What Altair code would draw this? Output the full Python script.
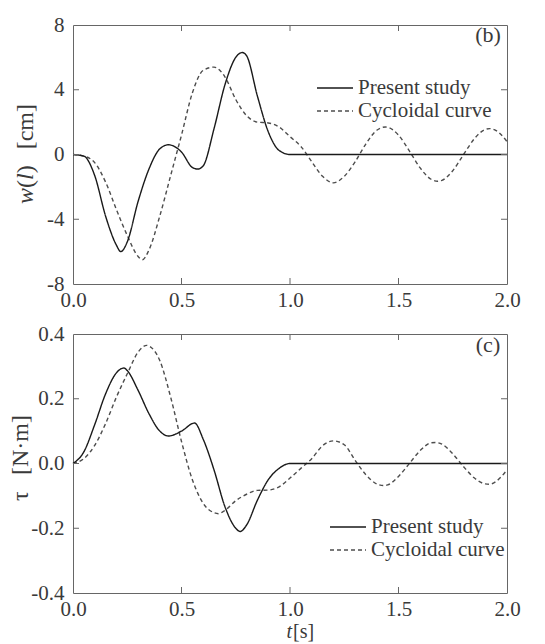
import altair as alt
import pandas as pd

SERIES = ["Present study", "Cycloidal curve"]

# ---- panel (b): tip deflection w(l) [cm]
w_present_t = [0, 0.05, 0.1, 0.15, 0.2, 0.22, 0.25, 0.3, 0.35, 0.4, 0.44, 0.5, 0.55, 0.575,
               0.6, 0.65, 0.7, 0.75, 0.78, 0.8, 0.85, 0.9, 0.95, 1.0, 1.5, 2.0]
w_present_v = [0, -0.1, -1.3, -3.8, -5.6, -6.0, -5.4, -2.9, -0.9, 0.35, 0.6, 0.15, -0.8, -0.9,
               -0.7, 1.6, 4.3, 6.0, 6.3, 6.1, 3.6, 1.4, 0.25, 0, 0, 0]

w_cyc_t = [0, 0.05, 0.1, 0.15, 0.2, 0.25, 0.3, 0.32, 0.35, 0.4, 0.45, 0.5, 0.55, 0.6, 0.65,
           0.7, 0.75, 0.8, 0.85, 0.9, 0.95, 1.0, 1.05, 1.1, 1.15, 1.2, 1.25, 1.3, 1.35, 1.4,
           1.44, 1.5, 1.55, 1.6, 1.65, 1.68, 1.7, 1.75, 1.8, 1.85, 1.9, 1.92, 1.95, 2.0]
w_cyc_v = [0, -0.1, -0.5, -1.7, -3.4, -5.0, -6.3, -6.5, -5.9, -3.8, -1.3, 1.2, 3.8, 5.2, 5.4,
           4.8, 3.4, 2.4, 2.0, 1.95, 1.7, 1.1, 0.5, -0.44, -1.35, -1.75, -1.35, -0.45, 0.66, 1.5,
           1.7, 1.2, 0.22, -0.83, -1.53, -1.65, -1.6, -1.0, 0.0, 0.98, 1.55, 1.6, 1.48, 0.8]

# ---- panel (c): torque tau [N·m]
tau_present_t = [0, 0.05, 0.1, 0.15, 0.2, 0.235, 0.25, 0.3, 0.35, 0.4, 0.44, 0.5, 0.56, 0.6,
                 0.65, 0.7, 0.75, 0.77, 0.8, 0.85, 0.9, 0.95, 1.0, 1.5, 2.0]
tau_present_v = [0, 0.036, 0.12, 0.215, 0.28, 0.295, 0.287, 0.226, 0.154, 0.10, 0.085, 0.10,
                 0.125, 0.075, -0.02, -0.133, -0.2, -0.21, -0.19, -0.113, -0.05, -0.015, 0, 0, 0]

tau_cyc_t = [0, 0.05, 0.1, 0.15, 0.2, 0.25, 0.3, 0.34, 0.35, 0.4, 0.45, 0.5, 0.55, 0.6, 0.65,
             0.67, 0.7, 0.75, 0.8, 0.85, 0.9, 0.95, 1.0, 1.05, 1.1, 1.15, 1.2, 1.25, 1.3, 1.35,
             1.4, 1.43, 1.45, 1.5, 1.55, 1.6, 1.65, 1.67, 1.7, 1.75, 1.8, 1.85, 1.9, 1.92, 1.95, 2.0]
tau_cyc_v = [0, 0.015, 0.056, 0.123, 0.205, 0.277, 0.344, 0.365, 0.363, 0.318, 0.205, 0.068,
             -0.05, -0.123, -0.152, -0.155, -0.145, -0.115, -0.095, -0.083, -0.082, -0.072,
             -0.045, -0.015, 0.015, 0.055, 0.07, 0.058, 0.01, -0.035, -0.063, -0.068, -0.066,
             -0.04, 0.0, 0.04, 0.064, 0.065, 0.06, 0.03, -0.01, -0.045, -0.063, -0.064, -0.055, -0.02]

X_TICKS = [0.0, 0.5, 1.0, 1.5, 2.0]
X_INNER = [0.5, 1.0, 1.5]
W_TICKS = [-8, -4, 0, 4, 8]
W_INNER = [-4, 0, 4]
TAU_TICKS = [-0.4, -0.2, 0.0, 0.2, 0.4]
TAU_INNER = [-0.2, 0.0, 0.2]

# axis-title pieces: (text, italic?)
W_TITLE = [("w", True), ("(", False), ("l", True), (")", False), ("[cm]", False)]
TAU_TITLE = [("τ", False), ("[N·m]", False)]
T_TITLE = [("t", True), ("[s]", False)]

FONT = "Liberation Serif"
TXT = "#3a3a3a"
FRAME = "#666666"
W, H = 434, 259
TICK = 6
LABEL_FS = 21
TITLE_FS = 24


def make_df(pt, pv, ct, cv):
    a = pd.DataFrame({"t": pt, "v": pv, "series": SERIES[0]})
    b = pd.DataFrame({"t": ct, "v": cv, "series": SERIES[1]})
    return pd.concat([b, a], ignore_index=True)


def text_piece(txt, italic, x, y, size, angle=0, align="left"):
    kw = dict(font=FONT, fontSize=size, color=TXT, align=align, baseline="middle")
    if italic:
        kw["fontStyle"] = "italic"
    if angle:
        kw["angle"] = angle
    return alt.Chart(pd.DataFrame({"s": [txt]})).mark_text(**kw).encode(
        text="s:N", x=alt.value(x), y=alt.value(y))


def vertical_title(pieces, x, starts):
    return [text_piece(p, it, x, y0, TITLE_FS, angle=270) for (p, it), y0 in zip(pieces, starts)]


def panel(df, ydom, yvals, yinner, yfmt, title_layers, tag, tag_y, lx, ly):
    xscale = alt.Scale(domain=[0, 2], nice=False, zero=False)
    yscale = alt.Scale(domain=ydom, nice=False, zero=False)
    x_axis = alt.Axis(values=X_TICKS, format=".1f", title=None, labelPadding=5)
    y_axis = alt.Axis(values=yvals, title=None, labelPadding=9,
                      labelExpr="(datum.value < 0 ? '-' : '') + format(abs(datum.value), '%s')" % yfmt)
    X = alt.X("t:Q", scale=xscale, axis=x_axis, title=None)
    Y = alt.Y("v:Q", scale=yscale, axis=y_axis, title=None)

    lines = alt.Chart(df).mark_line(interpolate="monotone", strokeWidth=1.4).encode(
        x=X, y=Y,
        color=alt.Color("series:N", scale=alt.Scale(domain=SERIES, range=["#1a1a1a", "#4d4d4d"]),
                        legend=None),
        strokeDash=alt.StrokeDash("series:N", scale=alt.Scale(domain=SERIES, range=[[1, 0], [4, 3]]),
                                  legend=None),
    )

    xt = pd.DataFrame({"t": X_INNER})
    yt = pd.DataFrame({"v": yinner})
    tick_style = dict(color=FRAME, strokeWidth=1)
    xt_bottom = alt.Chart(xt).mark_rule(**tick_style).encode(
        x=X, y=alt.value(H), y2=alt.value(H - TICK))
    xt_top = alt.Chart(xt).mark_rule(**tick_style).encode(
        x=X, y=alt.value(0), y2=alt.value(TICK))
    yt_left = alt.Chart(yt).mark_rule(**tick_style).encode(
        y=Y, x=alt.value(0), x2=alt.value(TICK))
    yt_right = alt.Chart(yt).mark_rule(**tick_style).encode(
        y=Y, x=alt.value(W), x2=alt.value(W - TICK))

    tag_layer = text_piece(tag, False, W - 19, tag_y, 22, align="center")

    legend_layers = []
    dashes = [[1, 0], [4, 3]]
    cols = ["#1a1a1a", "#4d4d4d"]
    for i, name in enumerate(SERIES):
        ldf = pd.DataFrame({"s": [name]})
        yy = ly + i * 23
        legend_layers.append(
            alt.Chart(ldf).mark_rule(strokeWidth=1.4, strokeDash=dashes[i], color=cols[i]).encode(
                x=alt.value(lx), x2=alt.value(lx + 36), y=alt.value(yy)))
        legend_layers.append(
            alt.Chart(ldf).mark_text(font=FONT, fontSize=LABEL_FS, color=TXT, align="left",
                                     baseline="middle").encode(
                text="s:N", x=alt.value(lx + 41), y=alt.value(yy)))

    return alt.layer(lines, xt_bottom, xt_top, yt_left, yt_right, tag_layer,
                     *legend_layers, *title_layers).properties(width=W, height=H)


# y-title of (b), reading upward: w ( l ) [cm]
fs = TITLE_FS
w_starts = [179, 179 - 0.667 * fs, 179 - 1.0 * fs, 179 - 1.278 * fs, 179 - 1.611 * fs - 16]
top_titles = vertical_title(W_TITLE, -47, w_starts)

tau_starts = [167, 141]
bottom_titles = vertical_title(TAU_TITLE, -52, tau_starts) + [
    text_piece(T_TITLE[0][0], T_TITLE[0][1], 219, H + 39, 20, align="right"),
    text_piece(T_TITLE[1][0], T_TITLE[1][1], 220, H + 39, 20, align="left"),
]

top = panel(make_df(w_present_t, w_present_v, w_cyc_t, w_cyc_v), [-8, 8], W_TICKS, W_INNER, "d",
            top_titles, "(b)", 10, 244, 63)
bottom = panel(make_df(tau_present_t, tau_present_v, tau_cyc_t, tau_cyc_v), [-0.4, 0.4], TAU_TICKS,
               TAU_INNER, ".1f", bottom_titles, "(c)", 11, 257, 193)

chart = alt.vconcat(top, bottom, spacing=11).configure_view(
    stroke=FRAME, strokeWidth=1
).configure_axis(
    ticks=False, domain=False, grid=False, labelFlush=False,
    labelFont=FONT, labelFontSize=LABEL_FS, labelColor=TXT,
    titleFont=FONT, titleFontSize=TITLE_FS, titleColor=TXT, titleFontWeight="normal",
).properties(background="white", padding={"left": 0, "top": 5, "right": 5, "bottom": 2})

chart.save("out.html", embed_options={"renderer": "svg", "actions": False})
